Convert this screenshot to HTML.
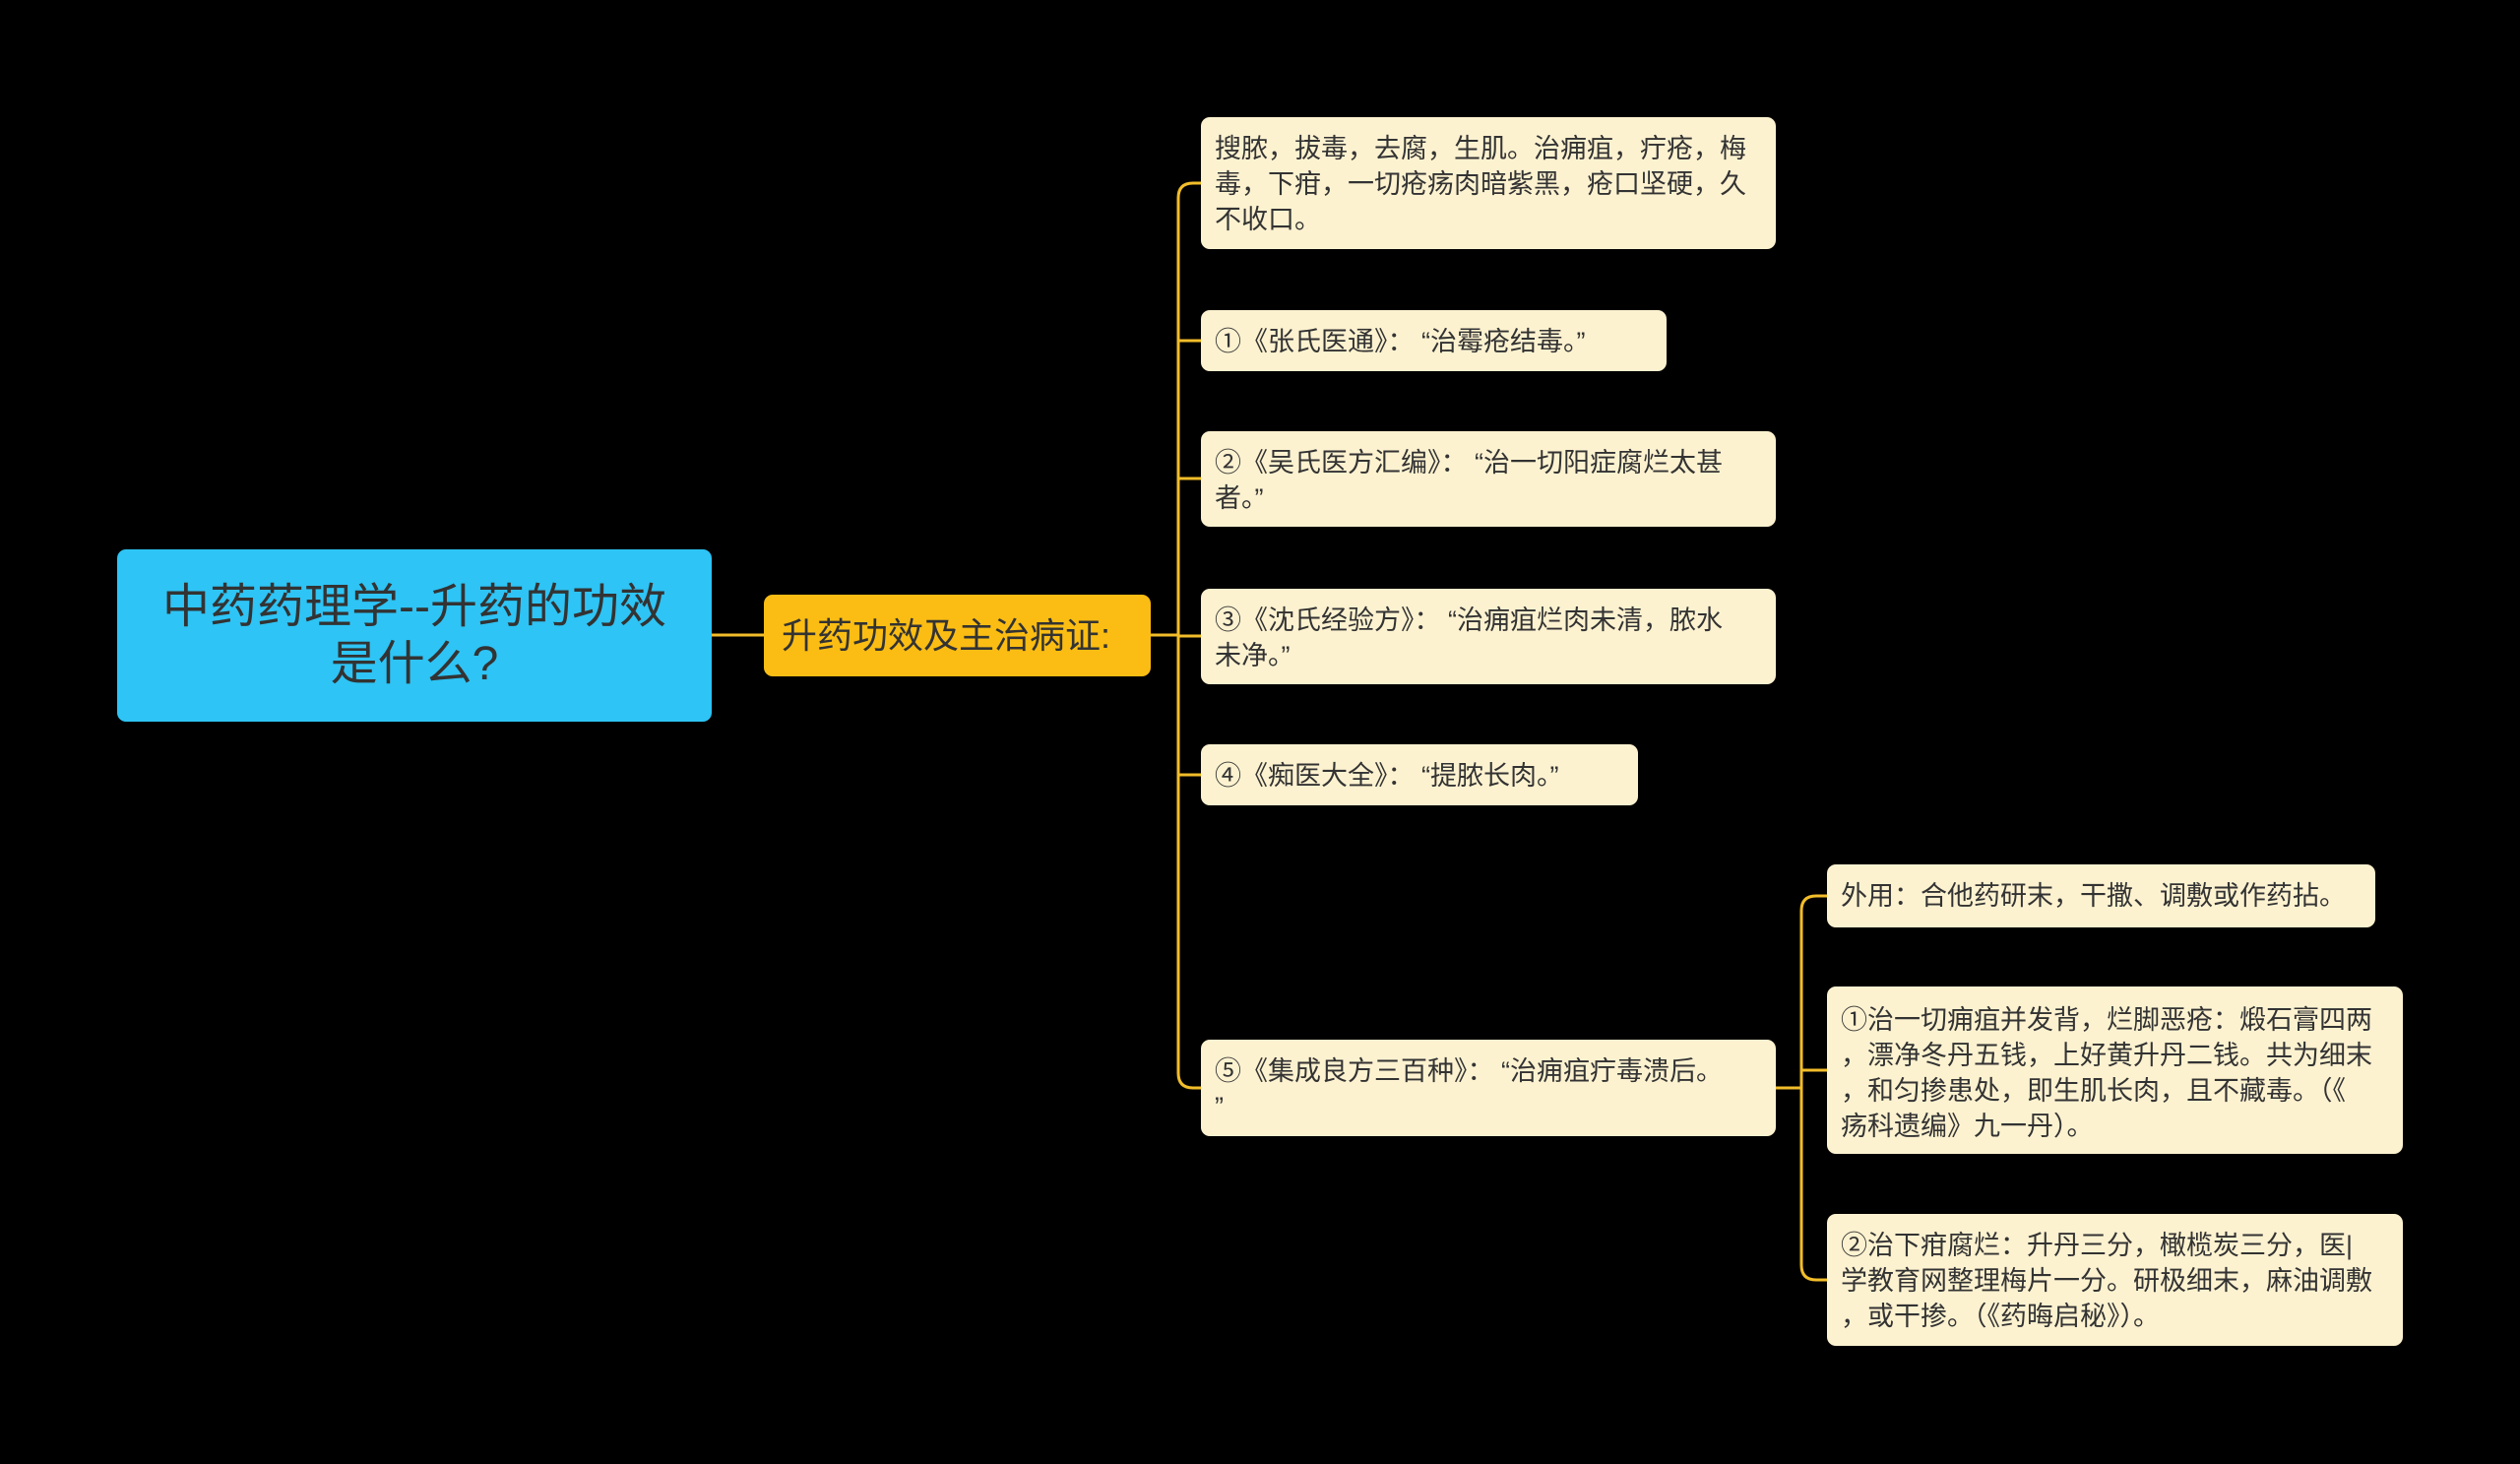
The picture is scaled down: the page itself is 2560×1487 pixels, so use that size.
<!DOCTYPE html>
<html><head><meta charset="utf-8"><style>
html,body{margin:0;padding:0;background:#000;}
body{width:2560px;height:1487px;position:relative;overflow:hidden;font-family:"Liberation Sans","Noto Sans CJK SC",sans-serif;}
.n{position:absolute;box-sizing:border-box;border-radius:9px;color:#333;}
.leaf{background:#fdf2d0;font-size:27px;line-height:36px;padding:14px 8px 0 14px;white-space:nowrap;overflow:hidden;}
svg{position:absolute;left:0;top:0;}
</style></head><body>
<svg width="2560" height="1487">
<g fill="none" stroke="#f2bd2a" stroke-width="3">
<path d="M723 645 H776"/>
<path d="M1169 645 H1197"/>
<path d="M1220 186 H1212 Q1197 186 1197 201 V1090 Q1197 1105 1212 1105 H1220"/>
<path d="M1197 346 Q1197 346 1220 346"/>
<path d="M1197 486 H1220"/>
<path d="M1197 646 H1220"/>
<path d="M1197 787 H1220"/>
<path d="M1804 1105 H1830"/>
<path d="M1856 910 H1845 Q1830 910 1830 925 V1285 Q1830 1300 1845 1300 H1856"/>
<path d="M1830 1087 H1856"/>
</g></svg>
<div class="n" style="left:119px;top:558px;width:604px;height:175px;background:#2ec4f5;font-size:48px;line-height:58px;text-align:center;padding-top:30px;">中药药理学--升药的功效<br>是什么?</div>
<div class="n" style="left:776px;top:604px;width:393px;height:83px;background:#fbbd13;font-size:36px;line-height:83px;padding-left:18px;">升药功效及主治病证:</div>
<div class="n leaf" style="left:1220px;top:119px;width:584px;height:134px;">搜脓，拔毒，去腐，生肌。治痈疽，疔疮，梅<br>毒，下疳，一切疮疡肉暗紫黑，疮口坚硬，久<br>不收口。</div>
<div class="n leaf" style="left:1220px;top:315px;width:473px;height:62px;">①《张氏医通》：&nbsp;“治霉疮结毒。”</div>
<div class="n leaf" style="left:1220px;top:438px;width:584px;height:97px;">②《吴氏医方汇编》：&nbsp;“治一切阳症腐烂太甚<br>者。”</div>
<div class="n leaf" style="left:1220px;top:598px;width:584px;height:97px;">③《沈氏经验方》：&nbsp;“治痈疽烂肉未清，脓水<br>未净。”</div>
<div class="n leaf" style="left:1220px;top:756px;width:444px;height:62px;">④《痴医大全》：&nbsp;“提脓长肉。”</div>
<div class="n leaf" style="left:1220px;top:1056px;width:584px;height:98px;">⑤《集成良方三百种》：&nbsp;“治痈疽疔毒溃后。<br>”</div>
<div class="n leaf" style="left:1856px;top:878px;width:557px;height:64px;">外用：合他药研末，干撒、调敷或作药拈。</div>
<div class="n leaf" style="left:1856px;top:1002px;width:585px;height:170px;padding-top:16px;">①治一切痈疽并发背，烂脚恶疮：煅石膏四两<br>，漂净冬丹五钱，上好黄升丹二钱。共为细末<br>，和匀掺患处，即生肌长肉，且不藏毒。（《<br>疡科遗编》九一丹）。</div>
<div class="n leaf" style="left:1856px;top:1233px;width:585px;height:134px;">②治下疳腐烂：升丹三分，橄榄炭三分，医|<br>学教育网整理梅片一分。研极细末，麻油调敷<br>，或干掺。（《药晦启秘》）。</div>
</body></html>
